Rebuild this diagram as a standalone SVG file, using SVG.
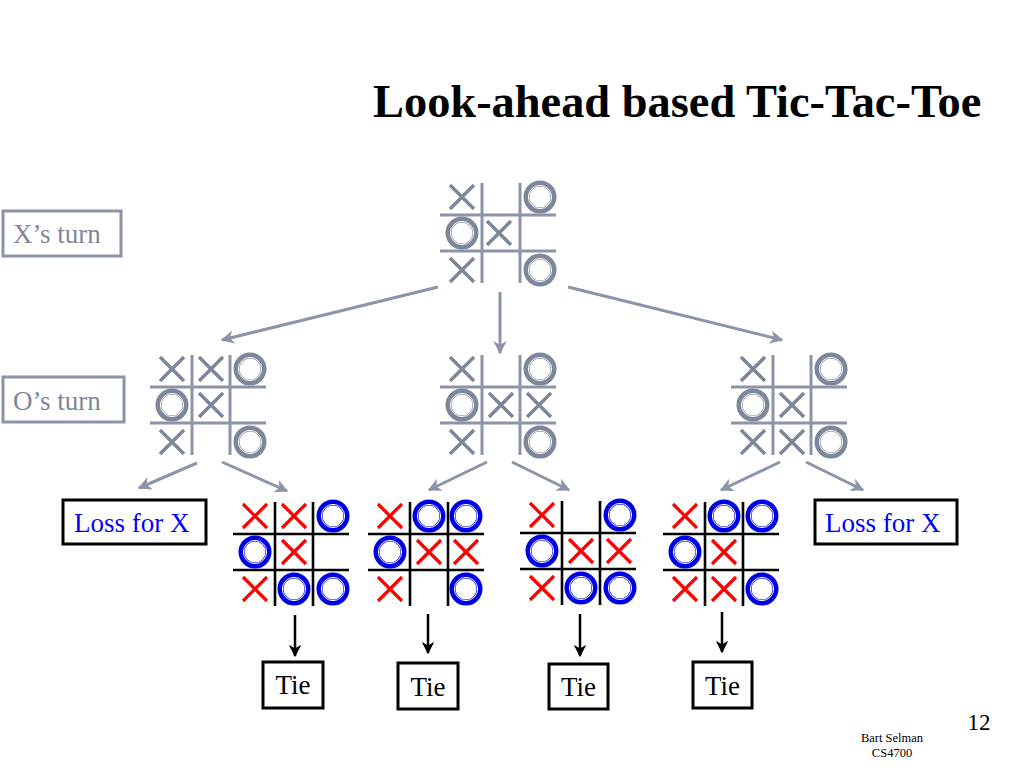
<svg xmlns="http://www.w3.org/2000/svg" xmlns:xlink="http://www.w3.org/1999/xlink" width="1024" height="768" viewBox="0 0 1024 768">
<style>
.gline{stroke:#8b94a8;stroke-width:3;fill:none}
.bline{stroke:#000;stroke-width:2.6;fill:none}
.garrow{stroke:#8b94a8;stroke-width:3;fill:none;marker-end:url(#gh)}
.barrow{stroke:#000;stroke-width:2.5;fill:none;marker-end:url(#bh)}
.lbl{font-family:"Liberation Serif","Times New Roman",serif}
.gbox{fill:#fff;stroke:#8b94a8;stroke-width:3}
.kbox{fill:#fff;stroke:#000;stroke-width:3}
</style>
<defs>
<marker id="gh" viewBox="0 0 10 10" refX="9" refY="5" markerWidth="4.5" markerHeight="4.5" orient="auto" markerUnits="strokeWidth">
<path d="M0,0 L10,5 L0,10 L3,5 Z" fill="#8b94a8"/>
</marker>
<marker id="bh" viewBox="0 0 10 10" refX="9" refY="5" markerWidth="5" markerHeight="5" orient="auto" markerUnits="strokeWidth">
<path d="M0,0 L10,5 L0,10 L3,5 Z" fill="#000"/>
</marker>
<g id="gx"><path d="M-12,-12 L12,12 M-12,12 L12,-12" stroke="#7d879b" stroke-width="3.5" fill="none"/></g>
<g id="go"><circle r="13.5" fill="none" stroke="#7d879b" stroke-width="6"/><circle r="11.6" fill="none" stroke="#fff" stroke-width="1"/></g>
<g id="rx"><path d="M-12,-12 L12,12 M-12,12 L12,-12" stroke="#f00" stroke-width="3.2" fill="none"/></g>
<g id="bo"><circle r="13.5" fill="none" stroke="#0000e6" stroke-width="6"/><circle r="11.6" fill="none" stroke="#fff" stroke-width="1"/></g>
<g id="ggrid"><path class="gline" d="M-42,0 H74 M-42,36 H74 M0,-32 V68 M38,-32 V68"/></g>
<g id="bgrid"><path class="bline" d="M-42,0 H74 M-42,36 H74 M0,-32 V72 M38,-32 V72"/></g>
</defs>
<rect width="1024" height="768" fill="#fff"/>
<text class="lbl" x="373" y="117" font-size="46.4" font-weight="bold" fill="#000">Look-ahead based Tic-Tac-Toe</text>

<g id="connectors">
<line class="garrow" x1="438" y1="287" x2="222" y2="340"/>
<line class="garrow" x1="500" y1="292" x2="500" y2="353"/>
<line class="garrow" x1="568" y1="287" x2="782" y2="340"/>
<line class="garrow" x1="197" y1="463" x2="139" y2="488"/>
<line class="garrow" x1="222" y1="462" x2="287" y2="491"/>
<line class="garrow" x1="487" y1="462" x2="429" y2="490"/>
<line class="garrow" x1="512" y1="462" x2="569" y2="490"/>
<line class="garrow" x1="780" y1="462" x2="721" y2="490"/>
<line class="garrow" x1="806" y1="462" x2="863" y2="490"/>
<line class="barrow" x1="295" y1="615" x2="295" y2="656"/>
<line class="barrow" x1="428" y1="614" x2="428" y2="653"/>
<line class="barrow" x1="580" y1="614" x2="580" y2="656"/>
<line class="barrow" x1="722" y1="612" x2="722" y2="652"/>
</g>

<g id="xturn"><rect class="gbox" x="3" y="211" width="118" height="45"/><text class="lbl" x="13" y="243" font-size="27" fill="#7d879b">X’s turn</text></g>
<g id="oturn"><rect class="gbox" x="3" y="377" width="121" height="45"/><text class="lbl" x="13" y="410" font-size="27" fill="#7d879b">O’s turn</text></g>

<g id="root" transform="translate(482,215)">
<use xlink:href="#ggrid"/>
<use xlink:href="#gx" x="-20" y="-18"/><use xlink:href="#go" x="58" y="-18"/>
<use xlink:href="#go" x="-20" y="18"/><use xlink:href="#gx" x="17" y="18"/>
<use xlink:href="#gx" x="-20" y="55"/><use xlink:href="#go" x="58" y="55"/>
</g>

<g id="o1" transform="translate(192,387)">
<use xlink:href="#ggrid"/>
<use xlink:href="#gx" x="-20" y="-18"/><use xlink:href="#gx" x="19" y="-18"/><use xlink:href="#go" x="58" y="-18"/>
<use xlink:href="#go" x="-20" y="18"/><use xlink:href="#gx" x="19" y="18"/>
<use xlink:href="#gx" x="-20" y="55"/><use xlink:href="#go" x="58" y="55"/>
</g>
<g id="o2" transform="translate(482,387)">
<use xlink:href="#ggrid"/>
<use xlink:href="#gx" x="-20" y="-18"/><use xlink:href="#go" x="58" y="-18"/>
<use xlink:href="#go" x="-20" y="18"/><use xlink:href="#gx" x="19" y="18"/><use xlink:href="#gx" x="57" y="18"/>
<use xlink:href="#gx" x="-20" y="55"/><use xlink:href="#go" x="58" y="55"/>
</g>
<g id="o3" transform="translate(773,387)">
<use xlink:href="#ggrid"/>
<use xlink:href="#gx" x="-20" y="-18"/><use xlink:href="#go" x="58" y="-18"/>
<use xlink:href="#go" x="-20" y="18"/><use xlink:href="#gx" x="19" y="18"/>
<use xlink:href="#gx" x="-20" y="55"/><use xlink:href="#gx" x="19" y="55"/><use xlink:href="#go" x="58" y="55"/>
</g>

<g id="loss1"><rect class="kbox" x="63" y="500" width="143" height="44"/><text class="lbl" x="74" y="532" font-size="27" fill="#0000ff">Loss for X</text></g>
<g id="loss2"><rect class="kbox" x="815" y="500" width="142" height="44"/><text class="lbl" x="825" y="532" font-size="27" fill="#0000ff">Loss for X</text></g>

<g id="a" transform="translate(275,534)">
<use xlink:href="#bgrid"/>
<use xlink:href="#rx" x="-20" y="-18"/><use xlink:href="#rx" x="19" y="-18"/><use xlink:href="#bo" x="58" y="-18"/>
<use xlink:href="#bo" x="-20" y="18"/><use xlink:href="#rx" x="19" y="18"/>
<use xlink:href="#rx" x="-20" y="55"/><use xlink:href="#bo" x="19" y="55"/><use xlink:href="#bo" x="58" y="55"/>
</g>
<g id="b" transform="translate(410,534)">
<use xlink:href="#bgrid"/>
<use xlink:href="#rx" x="-20" y="-18"/><use xlink:href="#bo" x="19" y="-18"/><use xlink:href="#bo" x="56" y="-18"/>
<use xlink:href="#bo" x="-20" y="18"/><use xlink:href="#rx" x="19" y="18"/><use xlink:href="#rx" x="56" y="18"/>
<use xlink:href="#rx" x="-20" y="55"/><use xlink:href="#bo" x="56" y="55"/>
</g>
<g id="c" transform="translate(562,533)">
<use xlink:href="#bgrid"/>
<use xlink:href="#rx" x="-20" y="-18"/><use xlink:href="#bo" x="58" y="-18"/>
<use xlink:href="#bo" x="-20" y="18"/><use xlink:href="#rx" x="19" y="18"/><use xlink:href="#rx" x="57" y="18"/>
<use xlink:href="#rx" x="-20" y="55"/><use xlink:href="#bo" x="19" y="55"/><use xlink:href="#bo" x="58" y="55"/>
</g>
<g id="d" transform="translate(705,534)">
<use xlink:href="#bgrid"/>
<use xlink:href="#rx" x="-20" y="-18"/><use xlink:href="#bo" x="19" y="-18"/><use xlink:href="#bo" x="57" y="-18"/>
<use xlink:href="#bo" x="-20" y="18"/><use xlink:href="#rx" x="19" y="18"/>
<use xlink:href="#rx" x="-20" y="55"/><use xlink:href="#rx" x="19" y="55"/><use xlink:href="#bo" x="57" y="55"/>
</g>

<g id="tie1"><rect class="kbox" x="263" y="662" width="60" height="46"/><text class="lbl" x="293" y="694" font-size="27" text-anchor="middle">Tie</text></g>
<g id="tie2"><rect class="kbox" x="398" y="663" width="60" height="46"/><text class="lbl" x="428" y="696" font-size="27" text-anchor="middle">Tie</text></g>
<g id="tie3"><rect class="kbox" x="549" y="664" width="59" height="45"/><text class="lbl" x="578.5" y="696" font-size="27" text-anchor="middle">Tie</text></g>
<g id="tie4"><rect class="kbox" x="693" y="662" width="59" height="46"/><text class="lbl" x="722.5" y="695" font-size="27" text-anchor="middle">Tie</text></g>

<text class="lbl" x="979" y="730" font-size="23" text-anchor="middle">12</text>
<text class="lbl" x="892" y="742" font-size="12.5" text-anchor="middle">Bart Selman</text>
<text class="lbl" x="892" y="757" font-size="12.5" text-anchor="middle">CS4700</text>
</svg>
